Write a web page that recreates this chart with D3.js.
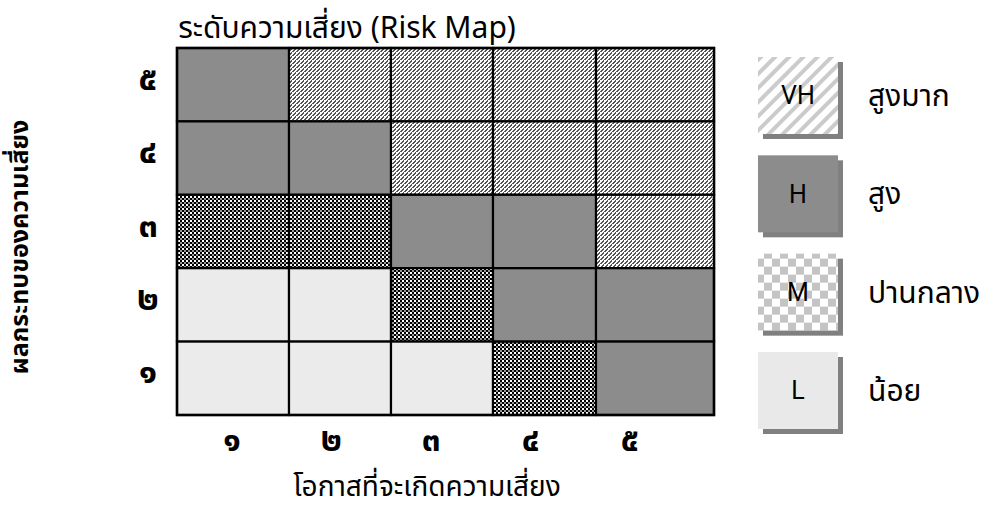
<!DOCTYPE html>
<html>
<head>
<meta charset="utf-8">
<script src="https://cdn.jsdelivr.net/npm/d3@7"></script>
<style>
  html, body { margin: 0; padding: 0; background: #fff; }
  svg { display: block; }
  text { font-family: Tahoma, "Leelawadee UI", "Noto Sans Thai", "Noto Sans", sans-serif; }
</style>
</head>
<body>
<svg id="chart" width="987" height="508"></svg>
<script>
// chart values
var likelihoodTicks = ["๑", "๒", "๓", "๔", "๕"];
var impactTicks = ["๕", "๔", "๓", "๒", "๑"];
// risk level per cell, top row (impact ๕) to bottom row (impact ๑), columns likelihood ๑..๕
var riskRows = [
  ["H", "VH", "VH", "VH", "VH"],
  ["H", "H", "VH", "VH", "VH"],
  ["M", "M", "H", "H", "VH"],
  ["L", "L", "M", "H", "H"],
  ["L", "L", "L", "M", "H"]
];
var legendCodes = ["VH", "H", "M", "L"];
var legendLabels = ["สูงมาก", "สูง", "ปานกลาง", "น้อย"];

var titleText = "ระดับความเสี่ยง (Risk Map)";
var xTitle = "โอกาสที่จะเกิดความเสี่ยง";
var yTitle = "ผลกระทบของความเสี่ยง";

var svg = d3.select("#chart");
var defs = svg.append("defs");

// grid patterns
var pVH = defs.append("pattern").attr("id", "gridVH")
    .attr("patternUnits", "userSpaceOnUse").attr("width", 4).attr("height", 4);
pVH.append("rect").attr("width", 4).attr("height", 4).attr("fill", "#fff");
[0, 1, 2, 3].forEach(function(i){
  pVH.append("rect").attr("x", (3 - i)).attr("y", i).attr("width", 2).attr("height", 1).attr("fill", "#555");
});
pVH.append("rect").attr("x", 0).attr("y", 3).attr("width", 1).attr("height", 1).attr("fill", "#555");

var pM = defs.append("pattern").attr("id", "gridM")
    .attr("patternUnits", "userSpaceOnUse").attr("width", 4).attr("height", 4);
pM.append("rect").attr("width", 4).attr("height", 4).attr("fill", "#fff");
pM.append("rect").attr("x", 0).attr("y", 0).attr("width", 2).attr("height", 2).attr("fill", "#000");
pM.append("rect").attr("x", 2).attr("y", 2).attr("width", 2).attr("height", 2).attr("fill", "#000");
pM.append("rect").attr("x", 0).attr("y", 2).attr("width", 2).attr("height", 2).attr("fill", "#999");

// legend patterns
var lVH = defs.append("pattern").attr("id", "legVH")
    .attr("patternUnits", "userSpaceOnUse").attr("width", 10).attr("height", 10)
    .attr("patternTransform", "rotate(45)");
lVH.append("rect").attr("width", 10).attr("height", 10).attr("fill", "#fff");
lVH.append("rect").attr("width", 4).attr("height", 10).attr("fill", "#cbcbcb");

var lM = defs.append("pattern").attr("id", "legM")
    .attr("patternUnits", "userSpaceOnUse").attr("width", 16).attr("height", 16)
    .attr("x", 758).attr("y", 253);
lM.append("rect").attr("width", 16).attr("height", 16).attr("fill", "#fff");
lM.append("rect").attr("x", 0).attr("y", 0).attr("width", 8).attr("height", 8).attr("fill", "#c4c4c4");
lM.append("rect").attr("x", 8).attr("y", 8).attr("width", 8).attr("height", 8).attr("fill", "#c4c4c4");

var gridFill = {VH: "url(#gridVH)", H: "#8c8c8c", M: "url(#gridM)", L: "#ebebeb"};
var legendFill = {VH: "url(#legVH)", H: "#8c8c8c", M: "url(#legM)", L: "#e9e9e9"};

// scales (column edges are slightly uneven in the original)
var xEdge = d3.scaleLinear()
    .domain([0, 1, 2, 3, 4, 5])
    .range([177, 289, 391, 493, 596, 714]);
var yBand = d3.scaleBand()
    .domain(impactTicks)
    .range([48, 415]);
var xTick = d3.scalePoint()
    .domain(likelihoodTicks)
    .range([232, 630]);

var cells = [];
riskRows.forEach(function(row, r){
  row.forEach(function(level, c){
    cells.push({row: impactTicks[r], col: c, level: level});
  });
});

var grid = svg.append("g");
grid.selectAll("rect.cell")
  .data(cells)
  .enter()
  .append("rect")
  .attr("class", "cell")
  .attr("x", function(d){ return xEdge(d.col); })
  .attr("y", function(d){ return yBand(d.row); })
  .attr("width", function(d){ return xEdge(d.col + 1) - xEdge(d.col); })
  .attr("height", yBand.bandwidth())
  .attr("fill", function(d){ return gridFill[d.level]; })
  .attr("stroke", "#000")
  .attr("stroke-width", 2.2);

grid.append("rect")
  .attr("x", xEdge(0))
  .attr("y", yBand.range()[0])
  .attr("width", xEdge(5) - xEdge(0))
  .attr("height", yBand.range()[1] - yBand.range()[0])
  .attr("fill", "none")
  .attr("stroke", "#000")
  .attr("stroke-width", 2.5);

// tick labels (Thai digits)
svg.append("g").selectAll("text")
  .data(likelihoodTicks)
  .enter()
  .append("text")
  .attr("x", function(d){ return xTick(d); })
  .attr("y", 451)
  .attr("text-anchor", "middle")
  .attr("font-size", "33px")
  .attr("font-weight", "bold")
  .text(function(d){ return d; });

svg.append("g").selectAll("text")
  .data(impactTicks)
  .enter()
  .append("text")
  .attr("x", 148)
  .attr("y", function(d){ return yBand(d) + yBand.bandwidth() / 2 + 5; })
  .attr("text-anchor", "middle")
  .attr("font-size", "34px")
  .attr("font-weight", "bold")
  .text(function(d){ return d; });

// titles
svg.append("text")
  .attr("x", 347)
  .attr("y", 38)
  .attr("text-anchor", "middle")
  .attr("font-size", "30px")
  .text(titleText);

svg.append("text")
  .attr("x", 427)
  .attr("y", 486)
  .attr("dy", "0.35em")
  .attr("text-anchor", "middle")
  .attr("font-size", "28px")
  .text(xTitle);

svg.append("text")
  .attr("transform", "translate(19,247) rotate(-90)")
  .attr("dy", "0.35em")
  .attr("text-anchor", "middle")
  .attr("font-size", "25px")
  .attr("font-weight", "bold")
  .text(yTitle);

// legend
var legY = d3.scalePoint()
    .domain(legendCodes)
    .range([57, 352]);
var boxW = 80, boxH = 77, shadow = 5;

var leg = svg.append("g").selectAll("g")
  .data(legendCodes)
  .enter()
  .append("g")
  .attr("transform", function(d){ return "translate(758," + legY(d) + ")"; });

leg.append("rect")
  .attr("x", shadow)
  .attr("y", shadow)
  .attr("width", boxW)
  .attr("height", boxH)
  .attr("fill", "#808080");

leg.append("rect")
  .attr("width", boxW)
  .attr("height", boxH)
  .attr("fill", function(d){ return legendFill[d]; });

leg.append("text")
  .attr("x", boxW / 2)
  .attr("y", boxH / 2)
  .attr("dy", "0.35em")
  .attr("text-anchor", "middle")
  .style("font-family", "Roboto, Arial, sans-serif")
  .attr("font-size", "25px")
  .text(function(d){ return d; });

leg.append("text")
  .attr("x", 110)
  .attr("y", boxH / 2)
  .attr("dy", "0.35em")
  .attr("font-size", "30px")
  .text(function(d, i){ return legendLabels[i]; });
</script>
</body>
</html>
